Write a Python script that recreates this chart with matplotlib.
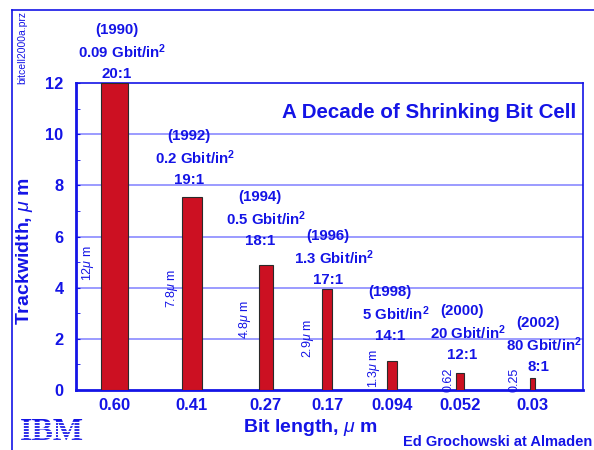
import numpy as np
import matplotlib
matplotlib.use('Agg')
import matplotlib.pyplot as plt
from matplotlib.lines import Line2D

plt.rcParams['font.family'] = ['Liberation Sans', 'DejaVu Sans']
plt.rcParams['mathtext.fontset'] = 'custom'
plt.rcParams['mathtext.rm'] = 'Liberation Sans'
plt.rcParams['mathtext.it'] = 'Liberation Sans:italic'
plt.rcParams['mathtext.bf'] = 'Liberation Sans:bold'

# data
bit_length = ['0.60', '0.41', '0.27', '0.17', '0.094', '0.052', '0.03']
trackwidth = [12.0, 7.55, 4.87, 3.95, 1.13, 0.67, 0.47]
width_text = ['12', '7.8', '4.8', '2.9', '1.3', '0.62', '0.25']
width_unit = [True, True, True, True, True, False, False]
years = ['1990', '1992', '1994', '1996', '1998', '2000', '2002']
density = ['0.09', '0.2', '0.5', '1.3', '5', '20', '80']
aspect = ['20:1', '19:1', '18:1', '17:1', '14:1', '12:1', '8:1']

# layout (x in pixels from the left axis edge)
bar_x = [38, 116, 190, 251, 316, 384, 456]
bar_w = [27, 20, 14, 10, 10, 8, 5]
note_x = [41, 113, 184, 252, 314, 386, 462]
note_y = [12.35, 8.21, 5.82, 4.30, 2.11, 1.37, 0.90]
side_x = [12, 96, 169, 232, 298, 372, 439]
side_y = [4.96, 3.99, 2.74, 2.03, 0.86, 0.39, 0.39]

blue = '#1414e6'
grid_blue = '#8a8aff'

fig = plt.figure(figsize=(5.94, 4.5), dpi=100)
ax = fig.add_axes([76 / 594, 1 - 390 / 450, 507 / 594, 307 / 450])

ax.bar(bar_x, trackwidth, width=bar_w, color='#cc1022', edgecolor='#2a2a2a',
       linewidth=0.8, zorder=3)

ax.set_xlim(0, 507)
ax.set_ylim(0, 12)
ax.set_yticks(np.arange(0, 13, 2))
ax.set_yticks(np.arange(1, 13, 2), minor=True)
ax.tick_params(axis='y', which='both', direction='in', length=3, color=blue,
               labelcolor=blue, labelsize=11.8, pad=9)
ax.set_xticks(bar_x)
ax.set_xticklabels(bit_length)
ax.tick_params(axis='x', length=0, labelcolor=blue, labelsize=12, pad=6)
for lab in ax.get_xticklabels() + ax.get_yticklabels():
    lab.set_fontweight('bold')

for yv in range(2, 12, 2):
    ax.axhline(yv, color=grid_blue, lw=1.2, zorder=1)

for side in ['left', 'bottom']:
    ax.spines[side].set_color(blue)
    ax.spines[side].set_linewidth(2)
for side in ['top', 'right']:
    ax.spines[side].set_color(blue)
    ax.spines[side].set_linewidth(1.2)

ax.set_xlabel(r'Bit length, $\mu$ m', color=blue, fontsize=14, fontweight='bold')
ax.xaxis.set_label_coords(234 / 507, -27 / 307)
ax.set_ylabel(r'Trackwidth, $\mu$ m', color=blue, fontsize=14, fontweight='bold')
ax.yaxis.set_label_coords(-41 / 507, 139 / 307)

ax.text(500, 10.85, 'A Decade of Shrinking Bit Cell', color=blue, fontsize=14.8,
        fontweight='bold', ha='right', va='center')

# annotations over each bar
for i in range(len(years)):
    kw = dict(xy=(note_x[i], note_y[i]), textcoords='offset points', ha='center',
              va='center', color=blue, fontsize=10.8, fontweight='bold',
              annotation_clip=False)
    ax.annotate(aspect[i], xytext=(0, 0), **kw)
    ax.annotate(density[i] + r' Gbit/in$^{\mathbf{2}}$', xytext=(4, 15.8), **kw)
    ax.annotate('(' + years[i] + ')', xytext=(0, 31.6), **kw)

    txt = width_text[i] + (r'$\mu$ m' if width_unit[i] else '')
    ax.text(side_x[i], side_y[i], txt, rotation=90, color=blue, fontsize=9,
            ha='center', va='center')

# frame, file tag, logo and credit
fig.add_artist(Line2D([12 / 594, 12 / 594], [0, 1 - 10 / 450],
                      transform=fig.transFigure, color=blue, lw=1.2))
fig.add_artist(Line2D([12 / 594, 1], [1 - 10 / 450, 1 - 10 / 450],
                      transform=fig.transFigure, color=blue, lw=1.2))
fig.text(22 / 594, 1 - 48 / 450, 'bitcell2000a.prz', rotation=90, color=blue,
         fontsize=7.5, ha='center', va='center')

fig.text(52 / 594, 1 - 433 / 450, 'IBM', color=blue, fontsize=23,
         fontweight='bold', family='Liberation Serif', ha='center', va='center')
for k in range(9):
    yy = 1 - (421.5 + k * 3) / 450
    fig.add_artist(Line2D([16 / 594, 90 / 594], [yy, yy], transform=fig.transFigure,
                          color='white', lw=0.9, zorder=10))

fig.text(403 / 594, 1 - 442 / 450, 'Ed Grochowski at Almaden', color=blue,
         fontsize=10.5, fontweight='bold', ha='left', va='center')

fig.savefig('out.png', dpi=100)
